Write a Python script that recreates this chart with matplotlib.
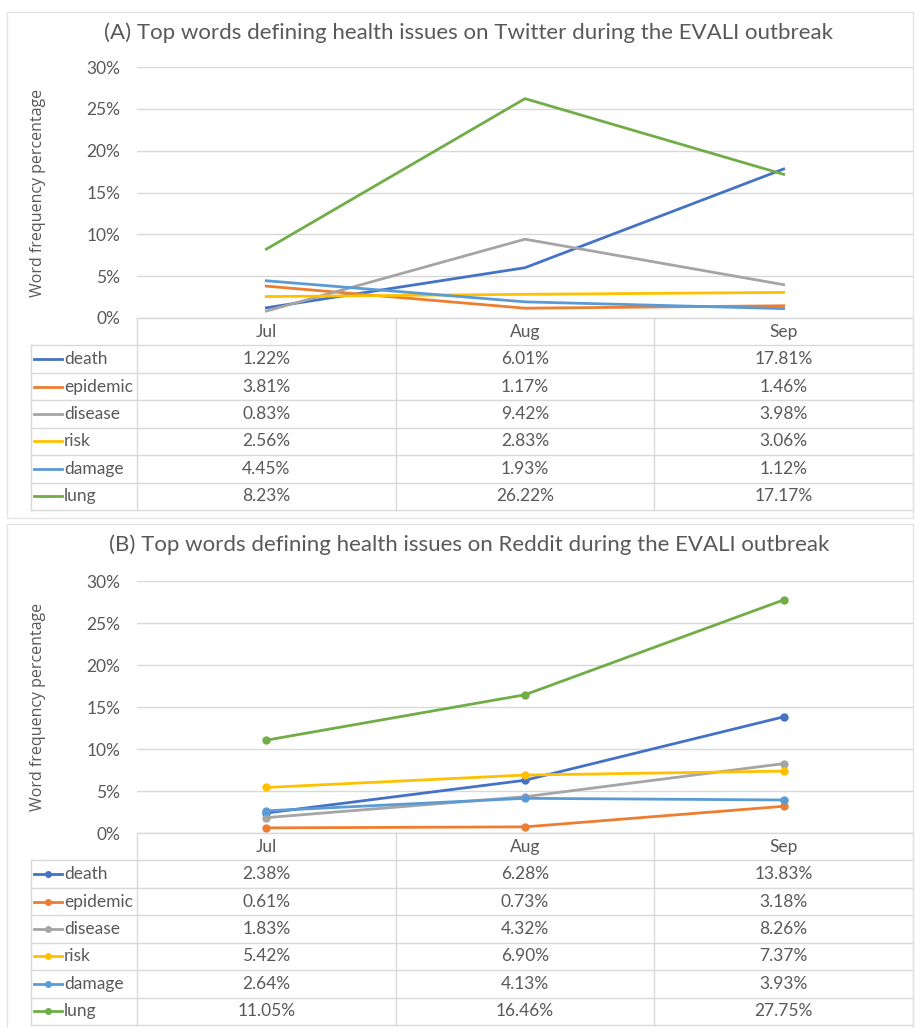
import matplotlib
matplotlib.use("Agg")
import matplotlib.pyplot as plt
from matplotlib.patches import Rectangle
from matplotlib.ticker import PercentFormatter

months = ["Jul", "Aug", "Sep"]
words = ["death", "epidemic", "disease", "risk", "damage", "lung"]
colors = ["#4472C4", "#ED7D31", "#A5A5A5", "#FFC000", "#5B9BD5", "#70AD47"]

# word frequency percentages, one list per word (Jul, Aug, Sep)
twitter = {
    "death": [1.22, 6.01, 17.81],
    "epidemic": [3.81, 1.17, 1.46],
    "disease": [0.83, 9.42, 3.98],
    "risk": [2.56, 2.83, 3.06],
    "damage": [4.45, 1.93, 1.12],
    "lung": [8.23, 26.22, 17.17],
}
reddit = {
    "death": [2.38, 6.28, 13.83],
    "epidemic": [0.61, 0.73, 3.18],
    "disease": [1.83, 4.32, 8.26],
    "risk": [5.42, 6.90, 7.37],
    "damage": [2.64, 4.13, 3.93],
    "lung": [11.05, 16.46, 27.75],
}
titles = [
    "(A) Top words defining health issues on Twitter during the EVALI outbreak",
    "(B) Top words defining health issues on Reddit during the EVALI outbreak",
]

W, H = 915, 1028
GRID = "#d9d9d9"
TXT = "#595959"
FONT = "Lato"
FS = 12.5

fig = plt.figure(figsize=(W / 100, H / 100), dpi=100)


def box(l, t, r, b):
    return [l / W, 1 - b / H, (r - l) / W, (b - t) / H]


def draw_panel(data, title, top, y30, y0, tbottom, markers):
    # panel frame
    fig.add_artist(Rectangle((7 / W, 1 - (top + 508) / H), 906 / W, 506 / H,
                             transform=fig.transFigure, fill=False,
                             edgecolor="#e4e4e4", lw=1))
    fig.text(469 / W, 1 - (top + 23) / H, title, ha="center", va="center",
             fontsize=16, color=TXT, family=FONT)
    fig.text(38 / W, 1 - ((y30 + y0) / 2) / H, "Word frequency percentage",
             rotation=90, ha="center", va="center", fontsize=11.5,
             color=TXT, family="Open Sans")

    ax = fig.add_axes(box(137, y30, 913, y0))
    x = range(len(months))
    for w, c in zip(words, colors):
        if markers:
            ax.plot(x, data[w], color=c, lw=2, marker="o", ms=5, clip_on=False)
        else:
            ax.plot(x, data[w], color=c, lw=2, clip_on=False)
    ax.set_xlim(-0.5, 2.5)
    ax.set_ylim(0, 30)
    ax.set_yticks(range(0, 31, 5))
    ax.yaxis.set_major_formatter(PercentFormatter(decimals=0))
    ax.set_xticks([])
    ax.grid(axis="y", color=GRID, lw=1)
    ax.set_axisbelow(True)
    for s in ax.spines.values():
        s.set_visible(False)
    ax.tick_params(axis="y", length=0, pad=12, labelsize=FS, labelcolor=TXT)
    for lab in ax.get_yticklabels():
        lab.set_family(FONT)

    # data table under the chart
    col_w = 776 / 3
    xl = -0.5 - 106 / col_w
    tb = fig.add_axes(box(31, y0, 913, tbottom))
    tb.set_xlim(xl, 2.5)
    tb.set_ylim(7, 0)
    tb.axis("off")
    n = len(words) + 1
    tb.plot([-0.5, 2.5], [0, 0], color=GRID, lw=1, clip_on=False)
    for r in range(1, n + 1):
        tb.plot([xl, 2.5], [r, r], color=GRID, lw=1, clip_on=False)
    for cx in [-0.5, 0.5, 1.5, 2.5]:
        tb.plot([cx, cx], [0, n], color=GRID, lw=1, clip_on=False)
    tb.plot([xl, xl], [1, n], color=GRID, lw=1, clip_on=False)
    for j, m in enumerate(months):
        tb.text(j, 0.5, m, ha="center", va="center", fontsize=FS,
                color=TXT, family=FONT)
    for i, (w, c) in enumerate(zip(words, colors)):
        yy = i + 1.5
        lx0 = xl + 3 / col_w
        lx1 = xl + 31 / col_w
        tb.plot([lx0, lx1], [yy, yy], color=c, lw=2, clip_on=False)
        if markers:
            tb.plot([(lx0 + lx1) / 2], [yy], color=c, marker="o", ms=4,
                    clip_on=False)
        tb.text(xl + 33 / col_w, yy, w, ha="left", va="center",
                fontsize=FS, color=TXT, family=FONT)
        for j, v in enumerate(data[w]):
            tb.text(j, yy, f"{v:.2f}%", ha="center", va="center",
                    fontsize=FS, color=TXT, family=FONT)


draw_panel(twitter, titles[0], 10, 67, 318, 510, False)
draw_panel(reddit, titles[1], 522, 581, 833, 1025, True)

fig.savefig("out.png", dpi=100)
